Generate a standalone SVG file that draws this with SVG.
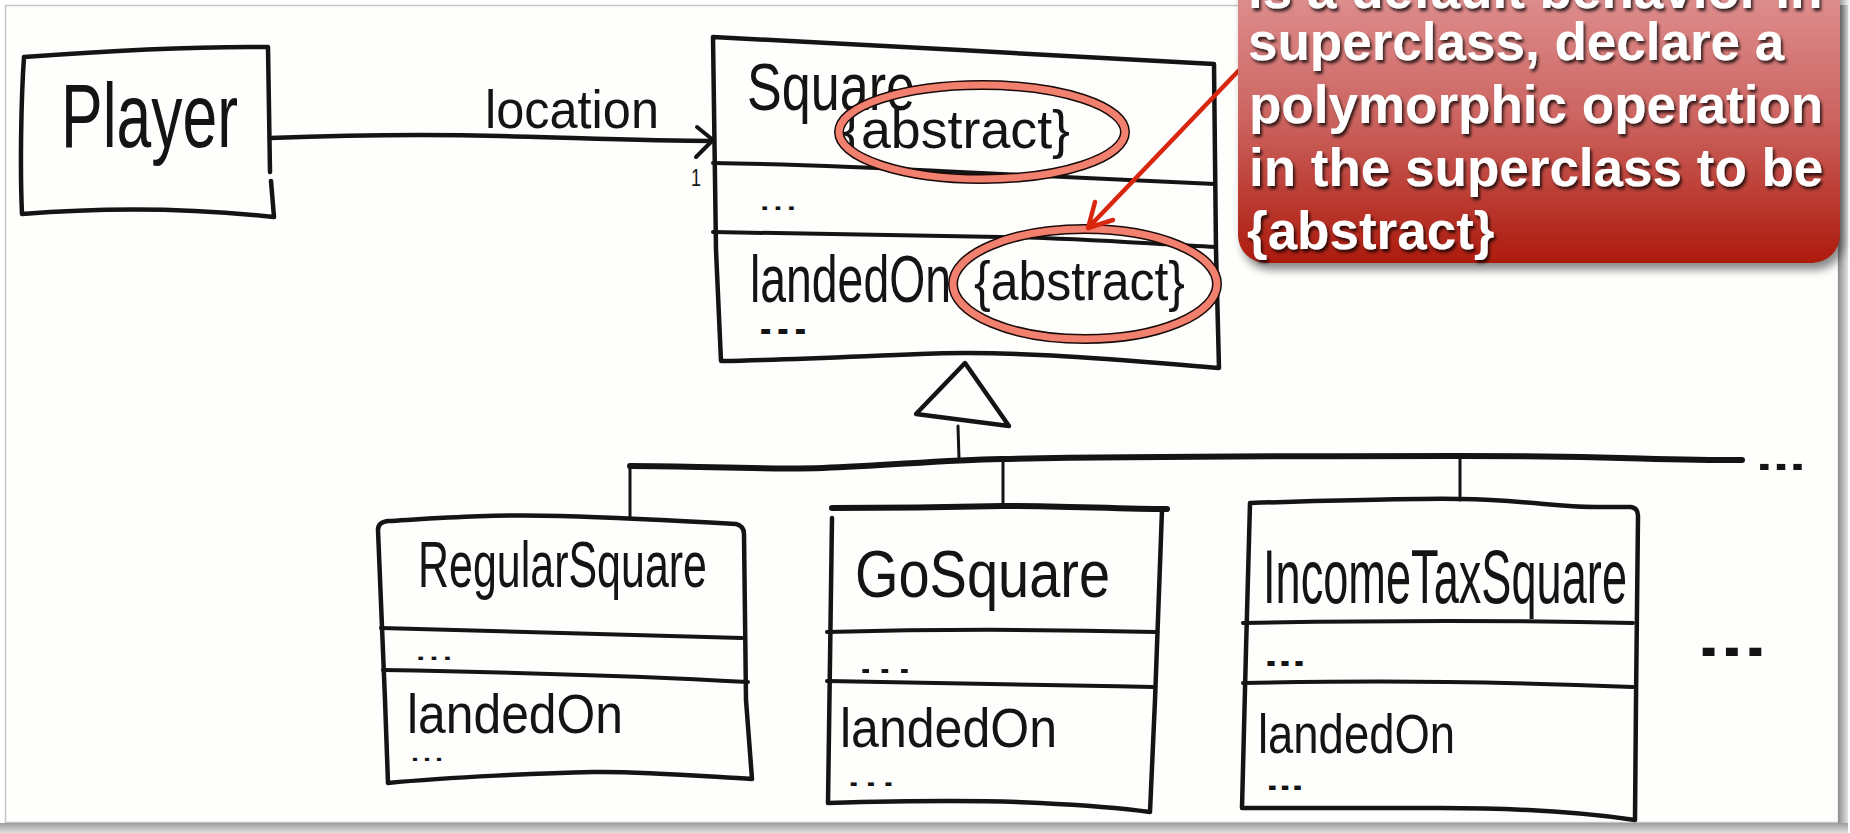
<svg xmlns="http://www.w3.org/2000/svg" width="1850" height="833" viewBox="0 0 1850 833">
  <defs>
    <style>
      .hand { font-family: "Liberation Sans", Arial, sans-serif; fill: #141414; }
      .ink { fill: none; stroke: #141414; stroke-linecap: round; stroke-linejoin: round; }
      .edge { stroke-width: 4.5; }
      .rule { stroke-width: 4; }
      .thin { stroke-width: 3; }
      .bus { stroke-width: 6; }
      .ringBack { fill: none; stroke: #1a0a08; stroke-width: 10; }
      .ringFront { fill: none; stroke: #f2806e; stroke-width: 7; }
      .note { font-family: "Liberation Sans", Arial, sans-serif; font-weight: bold; font-size: 53px; fill: #ffffff; filter: url(#textShadow); }
    </style>
    <linearGradient id="calloutFill" gradientUnits="userSpaceOnUse" x1="0" y1="0" x2="0" y2="263">
      <stop offset="0" stop-color="#dd8c8c"/>
      <stop offset="0.45" stop-color="#cc6460"/>
      <stop offset="1" stop-color="#ad1a0c"/>
    </linearGradient>
    <linearGradient id="sideShade" x1="0" y1="0" x2="1" y2="0">
      <stop offset="0" stop-color="#8c8c8c"/>
      <stop offset="1" stop-color="#e2e2e2"/>
    </linearGradient>
    <linearGradient id="footShade" x1="0" y1="0" x2="0" y2="1">
      <stop offset="0" stop-color="#9c9c9c"/>
      <stop offset="1" stop-color="#dedede"/>
    </linearGradient>
    <filter id="textShadow" x="-5%" y="-20%" width="115%" height="150%">
      <feDropShadow dx="2" dy="3" stdDeviation="1.6" flood-color="#000" flood-opacity="0.75"/>
    </filter>
    <filter id="boxShadow" x="-10%" y="-10%" width="120%" height="130%">
      <feGaussianBlur stdDeviation="4"/>
    </filter>
  </defs>

  <!-- page -->
  <rect x="0" y="0" width="1850" height="833" fill="#ffffff"/>
  <rect x="5.5" y="5.5" width="1833" height="817" fill="#fefefd" stroke="#c4c4c4" stroke-width="1.5"/>
  <rect x="1838" y="5" width="10" height="828" fill="url(#sideShade)"/>
  <rect x="0" y="823" width="1848" height="10" fill="url(#footShade)"/>

  <!-- connectors -->
  <g id="connectors">
    <!-- association Player -> Square -->
    <path class="ink edge" d="M270,138 C350,135 420,134 500,136 S650,141 713,141"/>
    <path class="ink rule" d="M697,127 L713,140 L696,157"/>
    <text class="hand" x="485" y="128" font-size="54" textLength="174" lengthAdjust="spacingAndGlyphs">location</text>
    <text class="hand" x="691" y="186" font-size="24" textLength="10" lengthAdjust="spacingAndGlyphs">1</text>

    <!-- generalization -->
    <path class="ink edge" d="M965,363 L916,414 L1009,426 Z" fill="#ffffff"/>
    <path class="ink thin" d="M958,426 L959,459"/>
    <path class="ink bus" d="M630,466 C700,466 760,470 823,468 S940,460 1001,459 C1150,456 1300,456 1458,456 S1650,460 1742,460"/>
    <path class="ink thin" d="M630,466 L630,518"/>
    <path class="ink thin" d="M1003,458 L1003,507"/>
    <path class="ink thin" d="M1460,456 L1460,500"/>
    <text class="hand" x="1756" y="470" font-size="40" font-weight="bold" textLength="50" lengthAdjust="spacingAndGlyphs">...</text>
  </g>

  <!-- Player -->
  <g id="player">
    <path class="ink edge" d="M24,57 C90,52 180,46 268,47 L270,172 M271,181 L274,217 C200,209 120,206 22,214 C20,170 21,100 24,57"/>
    <text class="hand" x="61" y="147" font-size="90" textLength="177" lengthAdjust="spacingAndGlyphs">Player</text>
  </g>

  <!-- Square -->
  <g id="square">
    <path class="ink edge" d="M713,37 C820,42 900,47 960,50 S1130,60 1214,64 L1216,250 L1219,368 C1120,360 1020,350 920,354 S780,360 721,361 L716,250 Z"/>
    <path class="ink rule" d="M713,163 C800,164 880,168 960,172 S1120,180 1215,184"/>
    <path class="ink rule" d="M713,232 C820,234 920,236 1000,237 S1150,244 1216,247"/>
    <text class="hand" x="747" y="110" font-size="66" textLength="168" lengthAdjust="spacingAndGlyphs">Square</text>
    <text class="hand" x="843" y="148" font-size="54" textLength="227" lengthAdjust="spacingAndGlyphs">{abstract}</text>
    <text class="hand" x="758" y="210" font-size="34" textLength="40" lengthAdjust="spacingAndGlyphs">...</text>
    <text class="hand" x="750" y="302" font-size="66" textLength="201" lengthAdjust="spacingAndGlyphs">landedOn</text>
    <text class="hand" x="974" y="300" font-size="56" textLength="211" lengthAdjust="spacingAndGlyphs">{abstract}</text>
    <text class="hand" x="757" y="334" font-size="34" font-weight="bold" textLength="52" lengthAdjust="spacingAndGlyphs">...</text>
  </g>

  <!-- RegularSquare -->
  <g id="regular-square">
    <path class="ink edge" d="M378,530 Q378,522 388,521 C440,518 493,514 560,516 S700,522 736,524 Q744,526 744,534 L746,700 L752,779 C700,776 640,771 593,772 S450,777 388,783 L385,700 Z"/>
    <path class="ink rule" d="M381,628 C480,630 600,633 742,638"/>
    <path class="ink rule" d="M383,670 C500,672 640,676 748,682"/>
    <text class="hand" x="418" y="587" font-size="64" textLength="289" lengthAdjust="spacingAndGlyphs">RegularSquare</text>
    <text class="hand" x="414" y="660" font-size="32" textLength="40" lengthAdjust="spacingAndGlyphs">...</text>
    <text class="hand" x="407" y="733" font-size="56" textLength="216" lengthAdjust="spacingAndGlyphs">landedOn</text>
    <text class="hand" x="409" y="761" font-size="30" textLength="36" lengthAdjust="spacingAndGlyphs">...</text>
  </g>

  <!-- GoSquare -->
  <g id="go-square">
    <path class="ink bus" d="M832,508 C900,508 960,507 1003,506 S1120,509 1167,509"/>
    <path class="ink edge" d="M832,518 L828,803 C900,801 980,800 1040,803 S1120,808 1150,812 L1155,700 L1162,510"/>
    <path class="ink rule" d="M827,632 C900,630 1000,628 1155,632"/>
    <path class="ink rule" d="M827,681 C950,683 1050,685 1153,687"/>
    <text class="hand" x="855" y="597" font-size="66" textLength="255" lengthAdjust="spacingAndGlyphs">GoSquare</text>
    <text class="hand" x="856" y="673" font-size="36" textLength="58" lengthAdjust="spacingAndGlyphs">...</text>
    <text class="hand" x="840" y="747" font-size="56" textLength="217" lengthAdjust="spacingAndGlyphs">landedOn</text>
    <text class="hand" x="845" y="786" font-size="34" textLength="52" lengthAdjust="spacingAndGlyphs">...</text>
  </g>

  <!-- IncomeTaxSquare -->
  <g id="income-tax-square">
    <path class="ink edge" d="M1250,503 C1350,500 1420,498 1460,499 C1530,500 1560,508 1600,507 L1631,507 Q1638,508 1638,516 L1636,700 L1635,820 C1580,812 1520,808 1440,808 S1300,808 1242,808 L1246,650 Z"/>
    <path class="ink rule" d="M1243,623 C1400,620 1500,620 1633,623"/>
    <path class="ink rule" d="M1243,683 C1400,680 1500,682 1633,687"/>
    <text class="hand" x="1263" y="603" font-size="76" textLength="364" lengthAdjust="spacingAndGlyphs">IncomeTaxSquare</text>
    <text class="hand" x="1264" y="666" font-size="34" font-weight="bold" textLength="42" lengthAdjust="spacingAndGlyphs">...</text>
    <text class="hand" x="1258" y="753" font-size="56" textLength="197" lengthAdjust="spacingAndGlyphs">landedOn</text>
    <text class="hand" x="1266" y="790" font-size="30" font-weight="bold" textLength="38" lengthAdjust="spacingAndGlyphs">...</text>
  </g>

  <!-- further subclasses -->
  <g id="more-subclasses">
    <text class="hand" x="1697" y="656" font-size="56" font-weight="bold" textLength="70" lengthAdjust="spacingAndGlyphs">...</text>
  </g>

  <!-- annotation -->
  <g id="annotation">
    <ellipse class="ringBack" cx="982" cy="132" rx="143" ry="47"/>
    <ellipse class="ringFront" cx="982" cy="132" rx="143" ry="47"/>
    <ellipse class="ringBack" cx="1085" cy="284" rx="132" ry="55"/>
    <ellipse class="ringFront" cx="1085" cy="284" rx="132" ry="55"/>
    <path d="M1245,64 L1088,228 M1095,202 L1088,228 L1113,220" fill="none" stroke="#d8260f" stroke-width="4.5" stroke-linecap="round" stroke-linejoin="round"/>
  </g>

  <g id="callout">
    <rect x="1242" y="-40" width="602" height="310" rx="28" fill="#000" opacity="0.45" filter="url(#boxShadow)"/>
    <rect x="1238" y="-40" width="602" height="303" rx="28" fill="url(#calloutFill)"/>
    <text class="note" x="1248" y="8">is a default behavior in</text>
    <text class="note" x="1248" y="60">superclass, declare a</text>
    <text class="note" x="1249" y="123">polymorphic operation</text>
    <text class="note" x="1249" y="186">in the superclass to be</text>
    <text class="note" x="1247" y="249">{abstract}</text>
  </g>
</svg>
